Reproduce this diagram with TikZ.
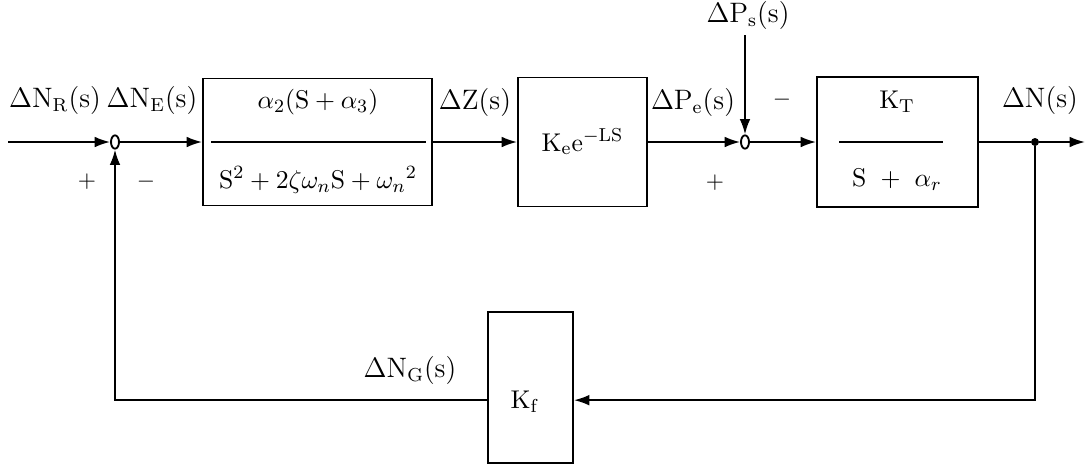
\documentclass[tikz,border=0pt]{standalone}
\usepackage{tikz}
\usetikzlibrary{shapes.geometric,arrows.meta}

\begin{document}
\begin{tikzpicture}
 [x=0.015cm, y=-0.015cm,
  block/.style={draw, thick, rectangle, inner sep=0pt, font=\fontsize{11}{13}\selectfont},
  sum/.style={draw, thick, ellipse, inner sep=0pt, minimum width=0.12cm, minimum height=0.2cm},
  sig/.style={inner sep=1pt, font=\large},
  txt/.style={font=\fontsize{11}{13}\selectfont},
  >={Latex[length=0.23cm,width=0.16cm]}]

\useasboundingbox (0,0) rectangle (1087,465);

\node[sum] (s1) at (115,142) {};
\node[block, minimum width=3.435cm, minimum height=1.905cm] (g1) at (317.5,142) {};
\node[block, minimum width=1.935cm, minimum height=1.935cm] (g2) at (582.5,142) {$\mathrm{K_e e^{-LS}}$};
\node[sum] (s2) at (745,142) {};
\node[block, minimum width=2.415cm, minimum height=1.95cm] (g3) at (897.5,142) {};
\node[circle, fill, inner sep=0pt, minimum size=0.12cm] (dot) at (1035,142) {};
\node[block, minimum width=1.275cm, minimum height=2.265cm] (kf) at (530.5,387.5) {};

\coordinate (in) at (8,142);
\coordinate (out) at (1085,142);
\coordinate (ps) at (745,35);

% block texts
\node[txt] (num1) at (318,102) {$\alpha_2(\mathrm{S}+\alpha_3)$};
\node[txt] (den1) at (318,180) {$\mathrm{S}^2+2\zeta\omega_n\mathrm{S}+\omega_n{}^2$};
\draw[thick] ([xshift=0.135cm]g1.west) -- ([xshift=-0.105cm]g1.east);
\node[txt] (num3) at (897,102) {$\mathrm{K_T}$};
\node[txt] (den3) at (897,180) {$\mathrm{S}\ +\ \alpha_r$};
\draw[thick] ([xshift=0.345cm]g3.west) -- ([xshift=-0.54cm]g3.east);
\node[txt] (kft) at (525,402) {$\mathrm{K_f}$};

% signals
\node[sig] (nr) at (55,100) {$\Delta\mathrm{N_R(s)}$};
\node[sig] (ne) at (152,100) {$\Delta\mathrm{N_E(s)}$};
\node[sig] (dz) at (475,102) {$\Delta\mathrm{Z(s)}$};
\node[sig] (pe) at (693,102) {$\Delta\mathrm{P_e(s)}$};
\node[sig] (pss) at (748,15) {$\Delta\mathrm{P_s(s)}$};
\node[sig] (dn) at (1040,100) {$\Delta\mathrm{N(s)}$};
\node[sig] (ng) at (410,370) {$\Delta\mathrm{N_G(s)}$};

% signs
\node (p1) at (87,182) {$+$};
\node (m1) at (146,182) {$-$};
\node (p2) at (715,183) {$+$};
\node (m2) at (782,100) {$-$};

\path
  (in) edge [->, thick] (s1)
  (s1) edge [->, thick] (g1)
  (g1) edge [->, thick] (g2)
  (g2) edge [->, thick] (s2)
  (ps) edge [->, thick] (s2)
  (s2) edge [->, thick] (g3)
  (g3) edge [thick] (dot)
  (dot) edge [->, thick] (out);

\draw[->, thick] (dot) |- ([yshift=-0.19cm]kf.east);
\draw[->, thick] ([yshift=-0.19cm]kf.west) -| (s1);

\end{tikzpicture}
\end{document}
